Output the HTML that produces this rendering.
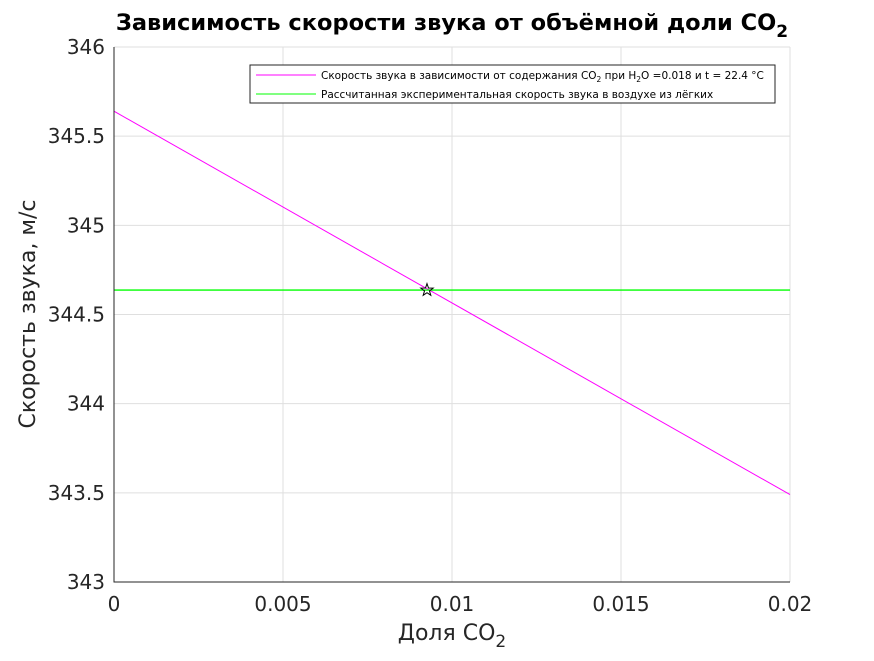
<!DOCTYPE html>
<html><head><meta charset="utf-8"><style>
body{margin:0;background:#fff}
svg text{font-family:"DejaVu Sans","Liberation Sans",sans-serif}
</style></head><body>
<svg id="c" width="874" height="656" xmlns="http://www.w3.org/2000/svg">
<rect width="874" height="656" fill="#fff"/>
<g id="grid"></g>
<g id="marks"></g>
<g id="ticks"></g>
<text x="452" y="30" text-anchor="middle" font-size="22.5" font-weight="bold" fill="#000">Зависимость скорости звука от объёмной доли CO<tspan dy="7" font-size="17">2</tspan></text>
<text x="452" y="640" text-anchor="middle" font-size="22" fill="#262626">Доля CO<tspan dy="7" font-size="17">2</tspan></text>
<text transform="translate(35,314) rotate(-90)" text-anchor="middle" font-size="22" fill="#262626">Скорость звука, м/с</text>
<g>
<rect x="250" y="65" width="525" height="38" fill="#fff" stroke="#262626" stroke-width="1"/>
<line x1="256" y1="75" x2="316" y2="75" stroke="#ff00ff" stroke-width="1"/>
<text x="321" y="79" font-size="10.5" fill="#000">Скорость звука в зависимости от содержания CO<tspan dy="3" font-size="7.5">2</tspan><tspan dy="-3"> при H</tspan><tspan dy="3" font-size="7.5">2</tspan><tspan dy="-3">O =0.018 и t = 22.4  °C</tspan></text>
<line x1="256" y1="94" x2="316" y2="94" stroke="#00ff00" stroke-width="1"/>
<text x="321" y="98" font-size="10.5" fill="#000">Рассчитанная экспериментальная скорость звука в воздухе из лёгких</text>
</g>
</svg>
<script>
const xTicks=[0,0.005,0.01,0.015,0.02];
const xTickLabels=["0","0.005","0.01","0.015","0.02"];
const yTicks=[343,343.5,344,344.5,345,345.5,346];
const yTickLabels=["343","343.5","344","344.5","345","345.5","346"];
const lineX=[0,0.02];
const lineY=[345.64,343.49];
const expSpeed=[344.637];
const starPoint=[0.00926,344.637];
const X0=114,X1=790,Y0=582,Y1=47;
const sx=v=>X0+(v-0)/(0.02-0)*(X1-X0);
const sy=v=>Y0-(v-343)/(346-343)*(Y0-Y1);
const NS="http://www.w3.org/2000/svg";
function mk(t,a,p){const e=document.createElementNS(NS,t);for(const k in a)e.setAttribute(k,a[k]);p.appendChild(e);return e;}
const grid=document.getElementById('grid'),marks=document.getElementById('marks'),ticks=document.getElementById('ticks');
xTicks.forEach((v,i)=>{
 const g=mk('line',{x1:sx(v),x2:sx(v),y1:Y1,y2:Y0,stroke:'#dfdfdf','stroke-width':1},grid);
 
 
 const t=mk('text',{x:sx(v),y:Y0+29,'text-anchor':'middle','font-size':'20',fill:'#262626'},ticks);
 t.textContent=xTickLabels[i];
 
 
});
yTicks.forEach((v,i)=>{
 const g=mk('line',{x1:X0,x2:X1,y1:sy(v),y2:sy(v),stroke:'#dfdfdf','stroke-width':1},grid);
 
 
 const t=mk('text',{x:X0-9,y:sy(v)+7,'text-anchor':'end','font-size':'20',fill:'#262626'},ticks);
 t.textContent=yTickLabels[i];
 
 
});
const ax=mk('path',{d:`M${X0},${Y1}V${Y0}H${X1}`,fill:'none',stroke:'#262626','stroke-width':1},ticks);


const m=mk('line',{x1:sx(lineX[0]),y1:sy(lineY[0]),x2:sx(lineX[1]),y2:sy(lineY[1]),stroke:'#ff00ff','stroke-width':1},marks);


const h=mk('line',{x1:X0,x2:X1,y1:sy(expSpeed[0]),y2:sy(expSpeed[0]),stroke:'#00ff00','stroke-width':1.3},marks);


const cx=sx(starPoint[0]),cy=sy(starPoint[1]);let pts=[];
for(let i=0;i<10;i++){const r=i%2?2.6:6.5,a=-Math.PI/2+i*Math.PI/5;pts.push((cx+r*Math.cos(a)).toFixed(1)+','+(cy+r*Math.sin(a)).toFixed(1));}
const s=mk('polygon',{points:pts.join(' '),fill:'none',stroke:'#000','stroke-width':1},marks);


</script>
</body></html>
